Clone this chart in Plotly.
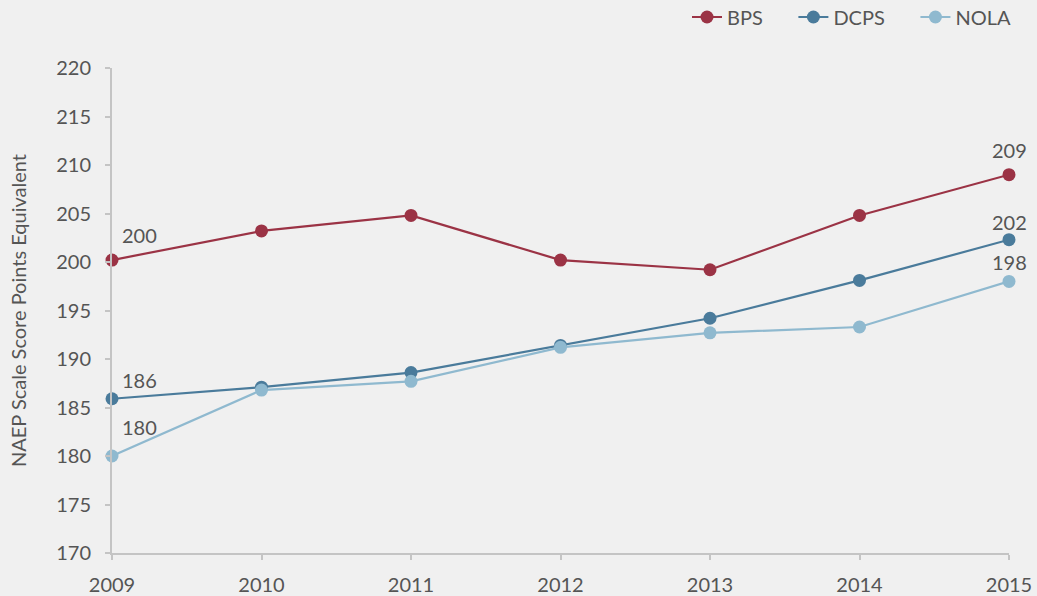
import plotly.graph_objects as go

years = [2009, 2010, 2011, 2012, 2013, 2014, 2015]
bps = [200.2, 203.2, 204.8, 200.2, 199.2, 204.8, 209.0]
dcps = [185.9, 187.1, 188.6, 191.4, 194.2, 198.1, 202.3]
nola = [180.0, 186.8, 187.7, 191.2, 192.7, 193.3, 198.0]
series_names = ["BPS", "DCPS", "NOLA"]
colors = ["#9b3345", "#4a7b9b", "#8fb9cf"]

# (year, value, label, x offset px, y offset px upward)
label_points = [
    (2009, 200.2, "200", 27, 25),
    (2009, 185.9, "186", 27, 19),
    (2009, 180.0, "180", 27, 29),
    (2015, 209.0, "209", 0, 25),
    (2015, 202.3, "202", 0, 18),
    (2015, 198.0, "198", 0, 19),
]

font_family = "Lato, 'Open Sans', sans-serif"
text_color = "#555555"
axis_color = "#c4c4c4"

fig = go.Figure()
n = len(series_names)
for i, (name, vals, col) in enumerate(zip(series_names, [bps, dcps, nola], colors)):
    legend_name = name + ("\u00a0" * 5 if i < n - 1 else "")
    fig.add_trace(go.Scatter(
        x=years, y=vals, name=legend_name, mode="lines+markers",
        line=dict(color=col, width=2.2),
        marker=dict(color=col, size=13),
        cliponaxis=False,
    ))

for x, y, t, dx, dy in label_points:
    fig.add_annotation(x=x, y=y, text=t, showarrow=False,
                       xshift=dx, yshift=dy,
                       font=dict(size=20, color=text_color, family=font_family))

fig.update_layout(
    width=1037, height=596,
    paper_bgcolor="#f0f0f0", plot_bgcolor="#f0f0f0",
    margin=dict(l=112, r=28, t=68, b=43, autoexpand=False),
    font=dict(family=font_family, color=text_color, size=20),
    showlegend=True,
    legend=dict(orientation="h", x=1016 / 1037, xanchor="right", xref="container",
                y=1 - 17 / 596, yanchor="middle", yref="container",
                font=dict(size=20, color=text_color), bgcolor="rgba(0,0,0,0)"),
    xaxis=dict(range=[2009, 2015], tickmode="array", tickvals=years,
               ticktext=[str(y) for y in years], automargin=False,
               showgrid=False, zeroline=False, showline=True, linecolor=axis_color,
               linewidth=2, ticks="outside", ticklen=5, tickcolor=axis_color, tickwidth=2,
               ticklabelstandoff=8,
               tickfont=dict(size=20, color=text_color)),
    yaxis=dict(range=[170, 220], dtick=5, showgrid=False, zeroline=False,
               showline=True, linecolor=axis_color, linewidth=2, automargin=False,
               ticks="outside", ticklen=5, tickcolor=axis_color, tickwidth=2,
               ticklabelstandoff=10,
               tickfont=dict(size=20, color=text_color),
               title=dict(text="NAEP Scale Score Points Equivalent",
                          font=dict(size=20, color=text_color), standoff=24)),
)

fig.write_html("out.html", config={"displayModeBar": False},
               post_script="document.body.style.margin='0';document.body.style.overflow='hidden';")
